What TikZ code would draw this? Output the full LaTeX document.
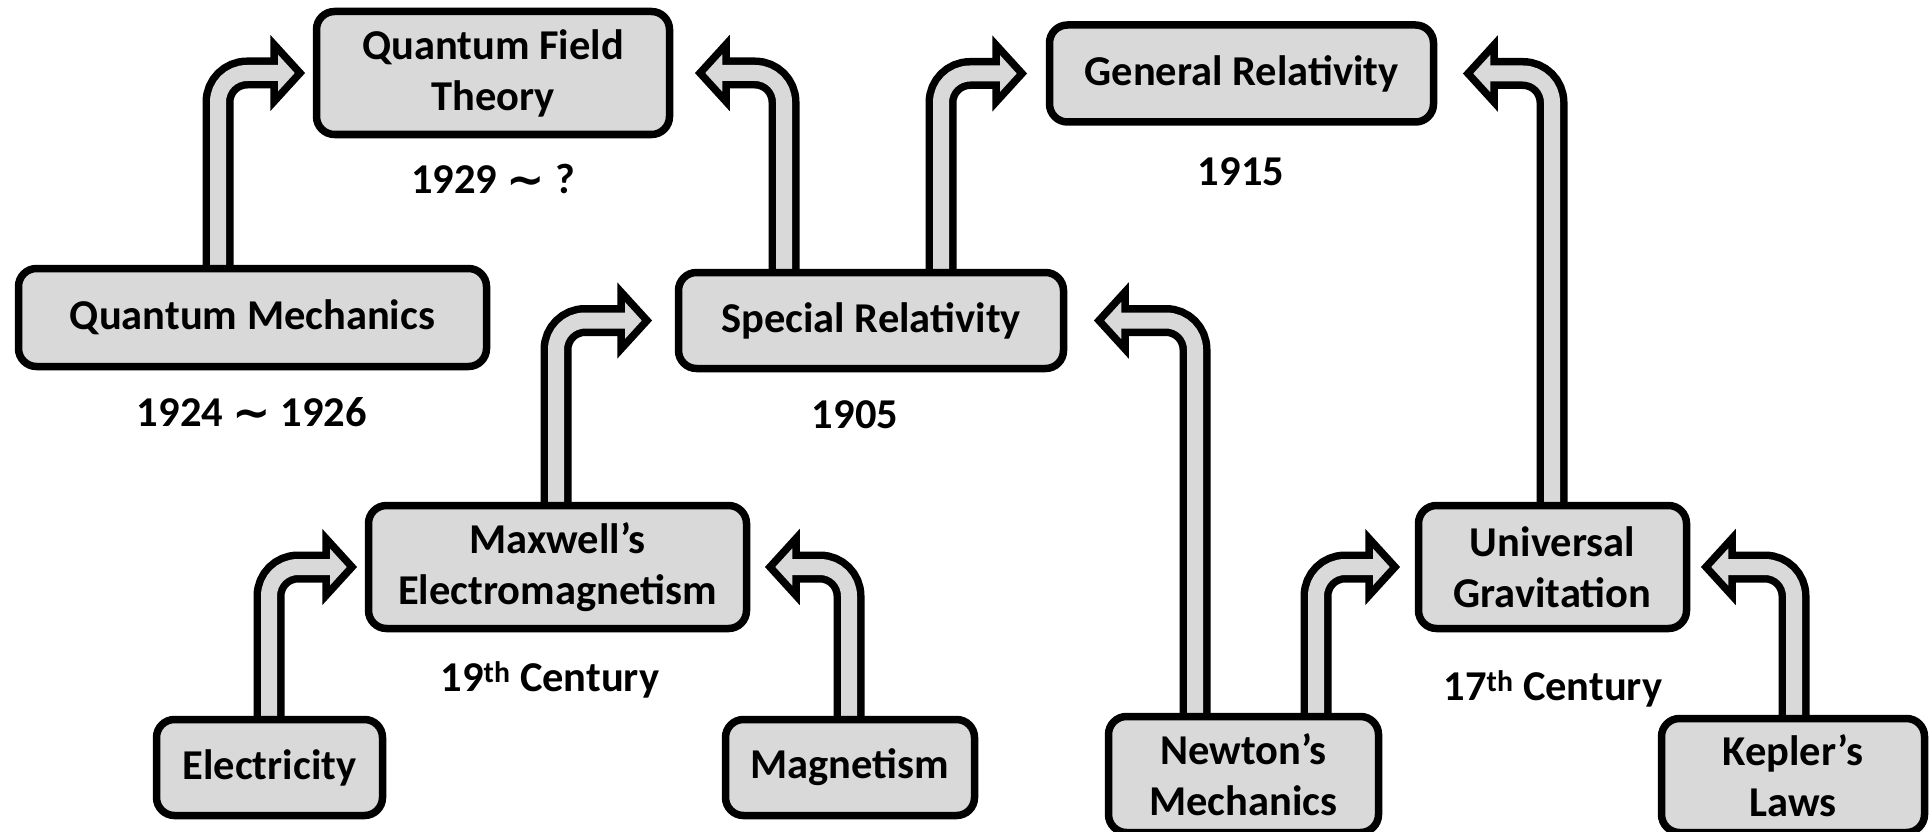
\documentclass[tikz,border=0pt]{standalone}
\usepackage{fontspec}
\setmainfont{Carlito}
\newfontfamily\djv{DejaVu Sans}
\usetikzlibrary{calc}
\definecolor{boxgray}{RGB}{217,217,217}
\tikzset{
  box/.style={draw=black, line width=7.5pt, fill=boxgray, rounded corners=18pt,
    inner sep=0pt, align=center, font=\bfseries\fontsize{42.5}{51}\selectfont},
  ghost/.style={box, draw=none, fill=none},
  datelbl/.style={inner sep=0pt, font=\bfseries\fontsize{42.5}{50}\selectfont},
}
\newcommand{\tld}{\raisebox{-2pt}{\djv\bfseries\fontsize{46}{46}\selectfont ∼}}
% bent block arrow: #1 start (on box top), #2 outer tip point, #3 direction (1 right, -1 left)
\newcommand{\bentarr}[3]{%
  \path #2 ++({-#3*5},0) coordinate (T) ++({-#3*26},0) coordinate (B);
  \draw[line width=31pt, black, rounded corners=29pt] #1 |- (B);
  \filldraw[fill=boxgray, draw=black, line width=7.5pt, line join=miter]
    ($(B)+(0,-28.5)$) -- (T) -- ($(B)+(0,28.5)$) -- cycle;
  \draw[line width=16pt, boxgray, rounded corners=29pt] #1 |- ($(B)+({#3*9},0)$);
}
\begin{document}
\begin{tikzpicture}[x=1pt,y=-1pt]
\useasboundingbox (0,0) rectangle (1929,832);

% node geometry (centres)
\path
  (493,73)      coordinate (cqft)
  (1241.5,73.5) coordinate (cgr)
  (252.5,317.5) coordinate (cqm)
  (871,320.5)   coordinate (csr)
  (557.5,567)   coordinate (cmax)
  (1552.5,567)  coordinate (cug)
  (269.5,767.5) coordinate (cel)
  (850,767.5)   coordinate (cmag)
  (1243.5,774.5) coordinate (cnew)
  (1793,775.5)  coordinate (ckep);

\path
  node[ghost, minimum width=353, minimum height=123] (qft) at (cqft) {}
  node[ghost, minimum width=384, minimum height=97]  (gr)  at (cgr) {}
  node[ghost, minimum width=468, minimum height=98]  (qm)  at (cqm) {}
  node[ghost, minimum width=385, minimum height=96]  (sr)  at (csr) {}
  node[ghost, minimum width=378, minimum height=123] (max) at (cmax) {}
  node[ghost, minimum width=268, minimum height=123] (ug)  at (cug) {}
  node[ghost, minimum width=226, minimum height=96]  (el)  at (cel) {}
  node[ghost, minimum width=249, minimum height=96]  (mag) at (cmag) {}
  node[ghost, minimum width=270, minimum height=116] (new) at (cnew) {}
  node[ghost, minimum width=263, minimum height=114] (kep) at (ckep) {};

% arrows
\bentarr{(218,0 |- qm.north)}{(305,0 |- qft.west)}{1}
\bentarr{(784,0 |- sr.north)}{(695,0 |- qft.east)}{-1}
\bentarr{(941,0 |- sr.north)}{(1027,0 |- gr.west)}{1}
\bentarr{(1552,0 |- ug.north)}{(1463,0 |- gr.east)}{-1}
\bentarr{(556,0 |- max.north)}{(652,0 |- sr.west)}{1}
\bentarr{(1195,0 |- new.north)}{(1094,0 |- sr.east)}{-1}
\bentarr{(269,0 |- el.north)}{(357,0 |- max.west)}{1}
\bentarr{(849,0 |- mag.north)}{(765,0 |- max.east)}{-1}
\bentarr{(1316,0 |- new.north)}{(1400,0 |- ug.west)}{1}
\bentarr{(1794,0 |- kep.north)}{(1701,0 |- ug.east)}{-1}

% boxes
\node[box, minimum width=353, minimum height=123] at (cqft) {Quantum Field\\Theory};
\node[box, minimum width=384, minimum height=97]  at (cgr)  {General Relativity};
\node[box, minimum width=468, minimum height=98]  at (cqm)  {Quantum Mechanics};
\node[box, minimum width=385, minimum height=96]  at (csr)  {Special Relativity};
\node[box, minimum width=378, minimum height=123] at (cmax) {Maxwell’s\\Electromagnetism};
\node[box, minimum width=268, minimum height=123] at (cug)  {Universal\\Gravitation};
\node[box, minimum width=226, minimum height=96]  at (cel)  {Electricity};
\node[box, minimum width=249, minimum height=96]  at (cmag) {Magnetism};
\node[box, minimum width=270, minimum height=116] at (cnew) {Newton’s\\Mechanics};
\node[box, minimum width=263, minimum height=114] at (ckep) {Kepler’s\\Laws};

% date labels
\node[datelbl] (d1) at (493,180) {1929 \tld\ ?};
\node[datelbl] (d2) at (252,413) {1924 \tld\ 1926};
\node[datelbl] (d3) at (855,415) {1905};
\node[datelbl] (d4) at (1241,172) {1915};
\node[datelbl] (d5) at (550,680) {19\textsuperscript{th} Century};
\node[datelbl] (d6) at (1553,689) {17\textsuperscript{th} Century};
\end{tikzpicture}
\end{document}
